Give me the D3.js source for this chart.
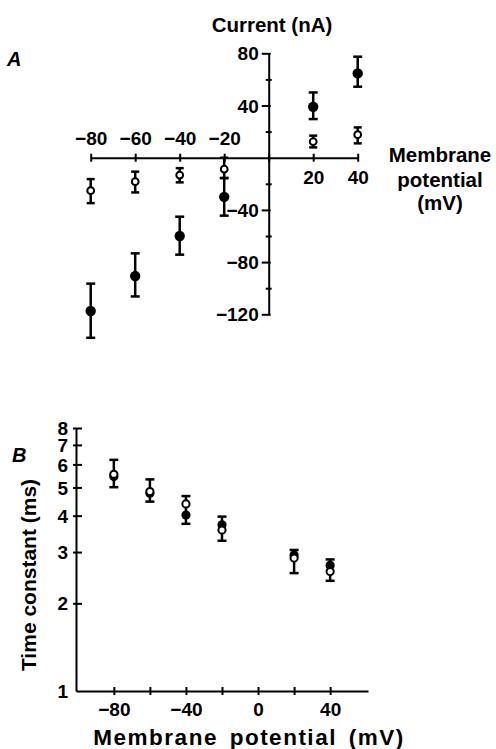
<!DOCTYPE html>
<html><head><meta charset="utf-8">
<script src="https://cdn.jsdelivr.net/npm/d3@7"></script>
<style>
html,body{margin:0;padding:0;background:#fff;}
svg text{font-family:"Liberation Sans",Arial,sans-serif;font-weight:bold;fill:#000;}
</style></head>
<body><svg id="c" width="496" height="749"></svg>
<script>
// ---------- Panel A data (current, nA) ----------
const potentialsA = [-80, -60, -40, -20, 20, 40];
const filledA     = [-117.5, -90.7, -60, -30, 39, 64.6];
const filledAHi   = [-96.5, -73.3, -45.2, -15.6, 50, 77.4];
const filledALo   = [-138, -106.3, -74.3, -44.4, 29.6, 54.4];
const openA       = [-25.3, -18.4, -13.3, -8.8, 12.3, 17.6];
const openAHi     = [-16.4, -10.7, -8, 0, 16.9, 23.2];
const openALo     = [-34.8, -26.6, -18.9, -15.6, 7.9, 11];
const xTicksA = [-80, -60, -40, -20, 0, 20, 40];
const yMajorA = [80, 40, -40, -80, -120];
const yMinorA = [60, 20, -20, -60, -100];

// ---------- Panel B data (time constant, ms) ----------
const potentialsB = [-80, -60, -40, -20, 20, 40];
const filledB = [5.45, 4.78, 4.02, 3.72, 2.93, 2.70];
const openB   = [5.55, 4.84, 4.39, 3.57, 2.86, 2.57];
const errBHi  = [6.22, 5.33, 4.67, 3.97, 3.05, 2.83];
const errBLo  = [5.01, 4.47, 3.75, 3.28, 2.54, 2.39];
const xTicksB = [-80, -60, -40, -20, 0, 20, 40];
const xLabelsB = [-80, -40, 0, 40];
const yTicksB = [1, 2, 3, 4, 5, 6, 7, 8];

const fmt = d => (d < 0 ? "\u2212" + Math.abs(d) : String(d));
const svg = d3.select("#c");

// ================= Panel A =================
const xA = d3.scaleLinear().domain([-80, 40]).range([90.7, 357.7]);
const yA = d3.scaleLinear().domain([80, -120]).range([53.3, 314.3]);
const gA = svg.append("g");

// x axis
const axA = gA.append("g").attr("transform", `translate(0,${yA(0)})`)
  .call(d3.axisBottom(xA).tickValues(xTicksA).tickSizeOuter(0).tickFormat(d => d === 0 ? "" : fmt(d)));
axA.select(".domain").attr("stroke", "#000").attr("stroke-width", 2);
axA.selectAll(".tick line").attr("y1", -4).attr("y2", 4).attr("stroke-width", 2);
axA.selectAll(".tick text").attr("font-size", 19).attr("font-family", null)
  .attr("y", d => d < 0 ? -13 : 26).attr("dy", null);

// y axis
const ayA = gA.append("g").attr("transform", `translate(${xA(0)},0)`)
  .call(d3.axisLeft(yA).tickValues(yMajorA).tickSize(7).tickSizeOuter(0).tickFormat(fmt));
ayA.select(".domain").attr("stroke", "#000").attr("stroke-width", 2);
ayA.selectAll(".tick line").attr("x2", -7).attr("x1", 2).attr("stroke-width", 2);
ayA.selectAll(".tick text").attr("font-size", 19).attr("font-family", null)
  .attr("x", -10).attr("dy", "0.35em");
const ayAm = gA.append("g").attr("transform", `translate(${xA(0)},0)`)
  .call(d3.axisLeft(yA).tickValues(yMinorA).tickSize(3).tickSizeOuter(0).tickFormat(""));
ayAm.select(".domain").remove();
ayAm.selectAll(".tick line").attr("x1", 3).attr("x2", -3).attr("stroke-width", 2);

function errBars(g, xs, lo, hi, x, y, cap) {
  const grp = g.append("g").attr("stroke", "#000").attr("stroke-width", 2.5);
  xs.forEach((v, i) => {
    grp.append("line").attr("x1", x(v)).attr("x2", x(v)).attr("y1", y(lo[i])).attr("y2", y(hi[i]));
    grp.append("line").attr("x1", x(v) - cap).attr("x2", x(v) + cap).attr("y1", y(lo[i])).attr("y2", y(lo[i]));
    grp.append("line").attr("x1", x(v) - cap).attr("x2", x(v) + cap).attr("y1", y(hi[i])).attr("y2", y(hi[i]));
  });
}
errBars(gA, potentialsA, filledALo, filledAHi, xA, yA, 4.5);
errBars(gA, potentialsA, openALo, openAHi, xA, yA, 4);
gA.selectAll(".fa").data(potentialsA).join("circle").attr("class", "fa")
  .attr("cx", d => xA(d)).attr("cy", (d, i) => yA(filledA[i])).attr("r", 5.2).attr("fill", "#000");
gA.selectAll(".oa").data(potentialsA).join("circle").attr("class", "oa")
  .attr("cx", d => xA(d)).attr("cy", (d, i) => yA(openA[i])).attr("r", 3.4)
  .attr("fill", "#fff").attr("stroke", "#000").attr("stroke-width", 2);

gA.append("text").attr("x", 272).attr("y", 32).attr("text-anchor", "middle").attr("font-size", 20.5).text("Current (nA)");
gA.append("text").attr("x", 7).attr("y", 66).attr("font-size", 20).attr("font-style", "italic").text("A");
const mlab = gA.append("text").attr("text-anchor", "middle").attr("font-size", 20.5);
[["Membrane", 162], ["potential", 186.5], ["(mV)", 209.5]].forEach(([t, yy]) =>
  mlab.append("tspan").attr("x", 440).attr("y", yy).text(t));

// ================= Panel B =================
const xB = d3.scaleLinear().domain([-101, 61]).range([76, 368]);
const yB = d3.scaleLog().domain([1, 8]).range([691, 428]);
const gB = svg.append("g");

const axB = gB.append("g").attr("transform", `translate(0,${yB(1)})`)
  .call(d3.axisBottom(xB).tickValues(xTicksB).tickSizeOuter(0)
    .tickFormat(d => xLabelsB.includes(d) ? fmt(d) : ""));
axB.select(".domain").attr("stroke", "#000").attr("stroke-width", 2);
axB.selectAll(".tick line").attr("y1", -4).attr("y2", 4).attr("stroke-width", 2);
axB.selectAll(".tick text").attr("font-size", 19).attr("font-family", null).attr("y", 25).attr("dy", null);

const ayB = gB.append("g").attr("transform", `translate(${xB(-101)},0)`)
  .call(d3.axisLeft(yB).tickValues(yTicksB).tickSizeOuter(0).tickFormat(d => String(d)));
ayB.select(".domain").attr("stroke", "#000").attr("stroke-width", 2);
ayB.selectAll(".tick line").attr("x1", d => d === 1 ? 0 : 6).attr("x2", d => d === 1 ? 0 : -3).attr("stroke-width", 2);
ayB.selectAll(".tick text").attr("font-size", 19).attr("font-family", null).attr("x", -8).attr("dy", "0.35em");

errBars(gB, potentialsB, errBLo, errBHi, xB, yB, 4.5);
gB.selectAll(".fb").data(potentialsB).join("circle").attr("class", "fb")
  .attr("cx", d => xB(d)).attr("cy", (d, i) => yB(filledB[i])).attr("r", 4.6).attr("fill", "#000");
gB.selectAll(".ob").data(potentialsB).join("circle").attr("class", "ob")
  .attr("cx", d => xB(d)).attr("cy", (d, i) => yB(openB[i])).attr("r", 3.6)
  .attr("fill", "#fff").attr("stroke", "#000").attr("stroke-width", 2);

gB.append("text").attr("x", 12).attr("y", 462).attr("font-size", 20).attr("font-style", "italic").text("B");
gB.append("text").attr("transform", "translate(36,575) rotate(-90)").attr("text-anchor", "middle")
  .attr("font-size", 21).text("Time constant (ms)");
gB.append("text").attr("x", 249).attr("y", 745).attr("text-anchor", "middle").attr("font-size", 22.5)
  .attr("letter-spacing", 1.5).attr("word-spacing", 4).text("Membrane potential (mV)");
</script></body></html>
